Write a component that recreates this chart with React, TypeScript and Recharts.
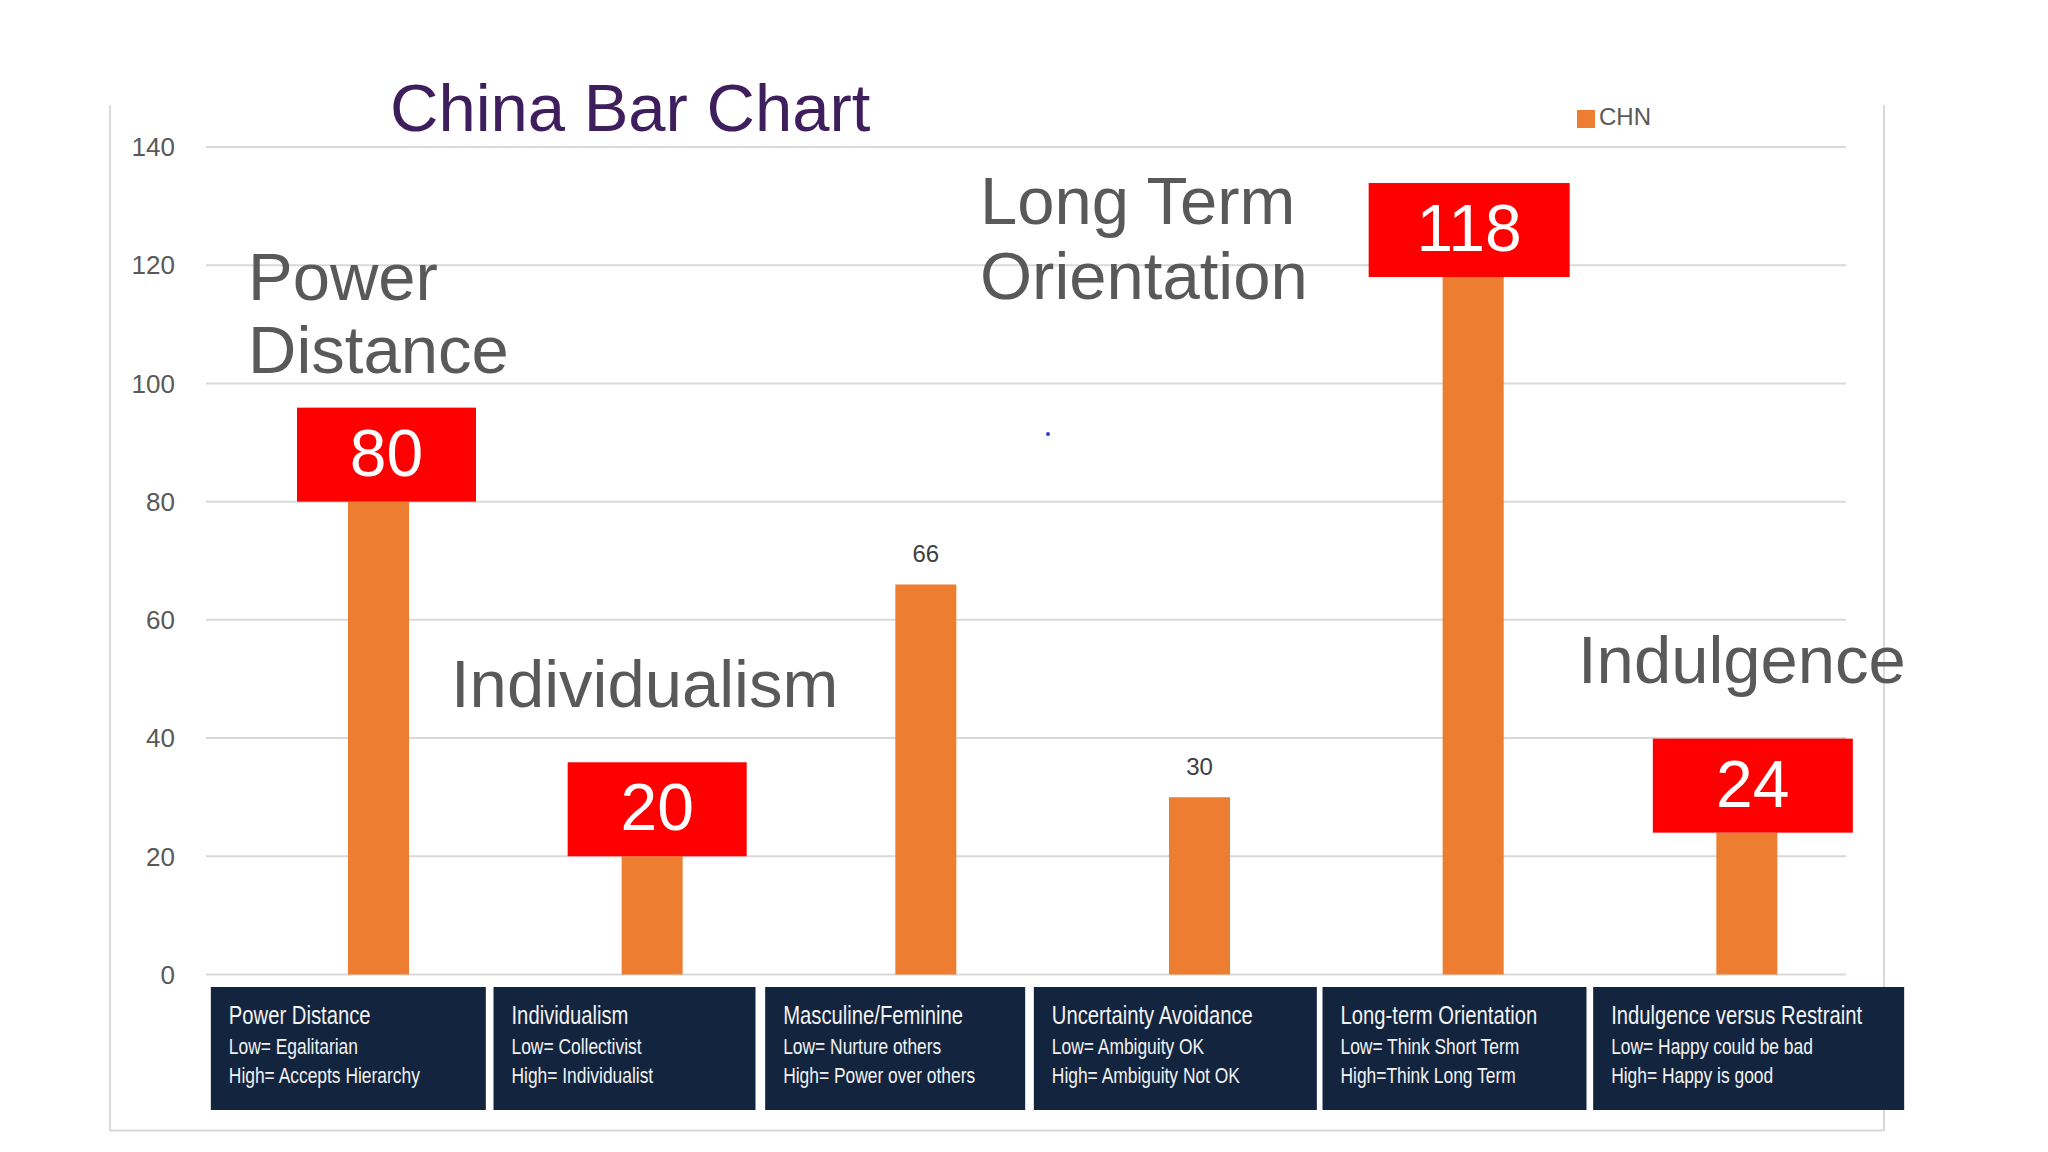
import React from 'react';
import { BarChart, Bar, XAxis, YAxis, CartesianGrid, Legend, LabelList } from 'recharts';

const categories = [
  'Power Distance',
  'Individualism',
  'Masculine/Feminine',
  'Uncertainty Avoidance',
  'Long-term Orientation',
  'Indulgence versus Restraint',
];
const chnValues = [80, 20, 66, 30, 118, 24];
const lowLabels = [
  'Low= Egalitarian',
  'Low= Collectivist',
  'Low= Nurture others',
  'Low= Ambiguity OK',
  'Low= Think Short Term',
  'Low= Happy could be bad',
];
const highLabels = [
  'High= Accepts Hierarchy',
  'High= Individualist',
  'High= Power over others',
  'High= Ambiguity Not OK',
  'High=Think Long Term',
  'High= Happy is good',
];
const highlighted = [true, true, false, false, true, true];
const yTicks = [0, 20, 40, 60, 80, 100, 120, 140];

const data = categories.map((cat, i) => ({ cat, CHN: chnValues[i] }));

// styling constants
const FONT = '"Liberation Sans", Arial, sans-serif';
const GRID = '#D9D9D9';
const BOX_W = [179, 179, 0, 0, 201, 200];
const BOX_DX = [8, 5, 0, 0, -4, 6];
const TICK_DX = [-168, -159, -161, -166, -151, -154];
const TICK_W = [275, 262, 260, 283, 264, 311];

const num = (a: any, b: any) => (typeof a === 'number' ? a : Number(b) || 0);

function ValueLabel(p: any) {
  const vb = p.viewBox || {};
  const x = num(p.x, vb.x);
  const y = num(p.y, vb.y);
  const w = num(p.width, vb.width);
  const idx = typeof p.index === 'number' ? p.index : chnValues.indexOf(Number(p.value));
  const cx = x + w / 2;
  if (highlighted[idx]) {
    const bw = BOX_W[idx];
    const bc = cx + BOX_DX[idx];
    return (
      <g>
        <rect x={bc - bw / 2} y={y - 94} width={bw} height={94} fill="#FF0000" />
        <text x={bc} y={y - 26} textAnchor="middle" fill="#FFFFFF" fontSize={66} fontFamily={FONT}>
          {p.value}
        </text>
      </g>
    );
  }
  return (
    <text x={cx} y={y - 22} textAnchor="middle" fill="#404040" fontSize={24} fontFamily={FONT}>
      {p.value}
    </text>
  );
}

function CategoryTick(p: any) {
  const i = p.payload && typeof p.payload.index === 'number' ? p.payload.index : p.index;
  const left = p.x + TICK_DX[i];
  const top = p.y + 12.5;
  return (
    <g>
      <rect x={left} y={top} width={TICK_W[i]} height={123} fill="#13243F" />
      <g transform={`translate(${left + 18} ${top}) scale(0.81 1)`} fill="#F2F2F2" fontFamily={FONT}>
        <text x={0} y={37} fontSize={25}>
          {categories[i]}
        </text>
        <text x={0} y={67} fontSize={21.5}>
          {lowLabels[i]}
        </text>
        <text x={0} y={96} fontSize={21.5}>
          {highLabels[i]}
        </text>
      </g>
    </g>
  );
}

function GridLine(props: any) {
  return (
    <line
      key={props.key ?? `g-${props.y1}`}
      x1={props.x1}
      x2={props.x2 - 38}
      y1={props.y1}
      y2={props.y2}
      stroke={GRID}
      strokeWidth={2}
    />
  );
}

export default function App() {
  return (
    <div
      style={{
        position: 'absolute',
        left: 0,
        top: 0,
        width: 2048,
        height: 1152,
        background: '#FFFFFF',
        fontFamily: FONT,
        overflow: 'hidden',
      }}
    >
      <svg width={2048} height={1152} style={{ position: 'absolute', left: 0, top: 0 }}>
        <line x1={110} y1={105} x2={110} y2={1131} stroke={GRID} strokeWidth={2} />
        <line x1={1884} y1={105} x2={1884} y2={1131} stroke={GRID} strokeWidth={2} />
        <line x1={110} y1={1130.5} x2={1884} y2={1130.5} stroke={GRID} strokeWidth={2} />
      </svg>
      <div style={{ position: 'absolute', left: 0, top: 0 }}>
        <BarChart
          width={2048}
          height={1152}
          data={data}
          margin={{ top: 147, right: 164, bottom: 17.5, left: 106 }}
        >
          <CartesianGrid vertical={false} horizontal={GridLine as any} stroke={GRID} />
          <XAxis
            dataKey="cat"
            axisLine={false}
            tickLine={false}
            tickSize={0}
            tickMargin={0}
            interval={0}
            height={160}
            padding={{ left: 36, right: 0 }}
            tick={<CategoryTick />}
          />
          <YAxis
            domain={[0, 140]}
            ticks={yTicks}
            axisLine={false}
            tickLine={false}
            tickSize={0}
            tickMargin={31}
            width={100}
            tick={{ fontSize: 26, fill: '#595959', fontFamily: FONT }}
          />
          <Legend
            layout="horizontal"
            verticalAlign="middle"
            align="center"
            iconType="square"
            iconSize={18}
            wrapperStyle={{ top: 104, left: 1577, width: 'auto', fontSize: 24, lineHeight: '26px', fontFamily: FONT }}
            formatter={() => <span style={{ color: '#595959' }}>CHN</span>}
          />
          <Bar dataKey="CHN" name="CHN" fill="#ED7D31" barSize={61} isAnimationActive={false}>
            <LabelList dataKey="CHN" content={ValueLabel as any} />
          </Bar>
        </BarChart>
      </div>
      <svg
        width={2048}
        height={1152}
        style={{ position: 'absolute', left: 0, top: 0, pointerEvents: 'none' }}
        fontFamily={FONT}
      >
        <text x={390} y={130.5} fontSize={67} fill="#3E1E5C">
          China Bar Chart
        </text>
        <g fontSize={67} fill="#595959">
          <text x={248} y={300}>Power</text>
          <text x={248} y={373}>Distance</text>
          <text x={980} y={224}>Long Term</text>
          <text x={980} y={299}>Orientation</text>
          <text x={451} y={706.5}>Individualism</text>
          <text x={1578} y={683}>Indulgence</text>
        </g>
        <circle cx={1048} cy={434} r={2} fill="#3A3AD8" />
      </svg>
    </div>
  );
}
